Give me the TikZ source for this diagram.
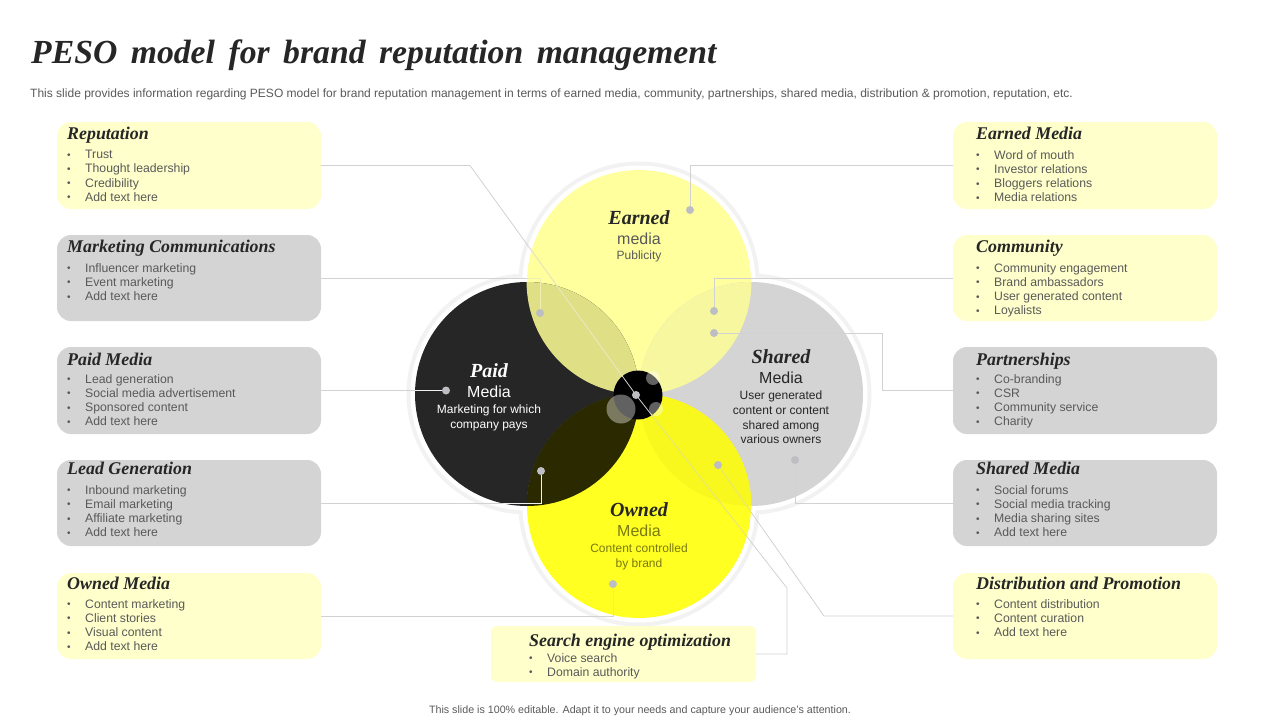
\documentclass[tikz,border=0pt]{standalone}
\usepackage{fontspec}
\setmainfont{Liberation Sans}
\newfontfamily\headfont{Liberation Serif}
\newfontfamily\titlefont[LetterSpace=0,WordSpace=1.6]{Liberation Serif}
\definecolor{txt}{HTML}{595959}
\definecolor{ink}{HTML}{262626}
\definecolor{paleY}{HTML}{FFFFCC}
\definecolor{paleG}{HTML}{D4D4D4}
\definecolor{earnC}{HTML}{FFFF9E}
\definecolor{ownC}{HTML}{FFFF22}
\definecolor{ownT}{HTML}{7A7A10}
\definecolor{wire}{HTML}{D2D2D2}
\definecolor{pin}{HTML}{BDBDC4}
\definecolor{wireE}{HTML}{EEEEB0}
\definecolor{wireO}{HTML}{F0F050}
\definecolor{wireP}{HTML}{F0F0F0}
\tikzset{
  x=1pt,y=-1pt,
  panel/.style={rounded corners=14pt,minimum width=264pt,inner sep=0pt,outer sep=0pt},
  ypanel/.style={panel,fill=paleY},
  gpanel/.style={panel,fill=paleG},
  phead/.style={anchor=base west,inner sep=0pt,text=ink,font=\headfont\bfseries\itshape\fontsize{17.9}{20}\selectfont},
  plist/.style={anchor=north west,inner sep=0pt,align=left,text=txt,font=\fontsize{12.25}{14.2}\selectfont},
  disc/.style={circle,minimum size=224pt,inner sep=0pt,outer sep=0pt},
  chead/.style={inner sep=0pt,font=\headfont\bfseries\itshape\fontsize{20}{22}\selectfont},
  cbody/.style={inner sep=0pt,align=center,font=\fontsize{12}{14.6}\selectfont},
  cmed/.style={inner sep=0pt,font=\fontsize{16}{17}\selectfont},
  dot/.style={circle,fill=pin,minimum size=8pt,inner sep=0pt,outer sep=0pt},
  wireline/.style={draw=wire,line width=0.8pt},
}
\newcommand{\itm}[1]{\makebox[18pt][l]{\raisebox{0.4pt}{\fontsize{10}{10}\selectfont •}}#1}
\begin{document}
\begin{tikzpicture}
\useasboundingbox (0,0) rectangle (1280,720);
% title
\node[anchor=west,inner sep=0pt,text=ink,font=\titlefont\bfseries\itshape\fontsize{33.7}{38}\selectfont] (title) at (31,55) {PESO model for brand reputation management};
\node[anchor=west,inner sep=0pt,text=txt,font=\fontsize{12.02}{14}\selectfont] (sub) at (30,94.5) {This slide provides information regarding PESO model for brand reputation management in terms of earned media, community, partnerships, shared media, distribution \& promotion, reputation, etc.};
\node[inner sep=0pt,text=txt,font=\fontsize{10.7}{12}\selectfont] (foot) at (640,711) {This slide is 100\% editable. Adapt it to your needs and capture your audience's attention.};
% halo
\foreach \c in {(639,282),(527,394),(751,394),(639,506)} \fill[black!5] \c circle (120.5);
\foreach \c in {(639,282),(527,394),(751,394),(639,506)} \fill[white] \c circle (116.5);
% discs
\node[disc,fill=earnC] (earned) at (639,282) {};
\node[disc,fill=ink] (paid) at (527,394) {};
\node[disc,fill=paleG] (shared) at (751,394) {};
\node[disc,fill=ownC] (owned) at (639,506) {};
\begin{scope}\clip (639,282) circle (112.4);\fill[color={rgb,255:red,223;green,223;blue,133}] (527,394) circle (112);\fill[color={rgb,255:red,247;green,247;blue,160}] (751,394) circle (112);\end{scope}
\begin{scope}\clip (639,506) circle (112.4);\fill[color={rgb,255:red,43;green,41;blue,0}] (527,394) circle (112);\fill[color={rgb,255:red,248;green,248;blue,30}] (751,394) circle (112);\end{scope}
% hub
\node[circle,fill=black,minimum size=49pt,inner sep=0pt] (hub) at (638,395) {};
\fill[white,opacity=.38] (621,409) circle (14.5);
\fill[white,opacity=.38] (653,378) circle (7);
\fill[white,opacity=.38] (656,409) circle (7);
% panels left
\node[ypanel,minimum height=87pt] (rep) at (189,165.5) {};
\node[gpanel,minimum height=86pt] (mkt) at (189,278) {};
\node[gpanel,minimum height=87pt] (pai) at (189,390.5) {};
\node[gpanel,minimum height=86pt] (lea) at (189,503) {};
\node[ypanel,minimum height=86pt] (own) at (189,616) {};
% panels right
\node[ypanel,minimum height=87pt] (ear) at (1085,165.5) {};
\node[ypanel,minimum height=86pt] (com) at (1085,278) {};
\node[gpanel,minimum height=87pt] (par) at (1085,390.5) {};
\node[gpanel,minimum height=86pt] (sha) at (1085,503) {};
\node[ypanel,minimum height=86pt] (dis) at (1085,616) {};
\node[fill=paleY,rounded corners=6pt,minimum width=265pt,minimum height=56pt,inner sep=0pt,outer sep=0pt] (seo) at (623.5,654) {};
% dots
\node[dot] (dEar) at (690,210) {};
\node[dot] (dCom) at (714,311) {};
\node[dot] (dPar) at (714,333) {};
\node[dot] (dSha) at (795,460) {};
\node[dot] (dDis) at (718,465) {};
\node[dot] (dMkt) at (540,313) {};
\node[dot] (dPai) at (446,390.5) {};
\node[dot] (dLea) at (541,471) {};
\node[dot] (dOwn) at (613,584) {};
\node[dot] (dHub) at (636,395) {};
% bends
\coordinate (bRep) at (470,165.5);
\coordinate (bSeo) at (787,588);
\coordinate (bDis) at (824,616);
\coordinate (bPar) at (882,333);
\coordinate (xRep) at (622.5,376.4);
\coordinate (xSeo) at (651,414);
% connectors
\draw[wireline] (rep.east) -- (bRep) -- (dHub);
\draw[wireline] (dHub) -- (bSeo) |- (seo.east);
\draw[wireline] (dDis) -- (bDis) -- (dis.west);
\draw[wireline] (ear.west) -| (dEar);
\draw[wireline] (com.west) -| (dCom);
\draw[wireline] (par.west) -| (bPar) -- (dPar);
\draw[wireline] (sha.west) -| (dSha);
\draw[wireline] (mkt.east) -| (dMkt);
\draw[wireline] (pai.east) -- (dPai);
\draw[wireline] (lea.east) -| (dLea);
\draw[wireline] (own.east) -| (dOwn);
% the connectors read paler where they cross a disc
\begin{scope}\clip (639,282) circle (112);
\draw[wireline,draw=wireE] (bRep) -- (xRep);
\draw[wireline,draw=wireE] (mkt.east) -| (dMkt);
\end{scope}
\begin{scope}\clip (639,506) circle (112);
\draw[wireline,draw=wireO] (xSeo) -- (bSeo);
\draw[wireline,draw=wireO] (dDis) -- (bDis);
\draw[wireline,draw=wireO] (own.east) -| (dOwn);
\end{scope}
\begin{scope}\clip (527,394) circle (112);
\draw[wireline,draw=wireP] (pai.east) -- (dPai);
\draw[wireline,draw=wireP] (lea.east) -| (dLea);
\end{scope}
% disc text
\node[chead,text=ink] (t1) at (639,218) {Earned};
\node[cmed,text=txt] (t2) at (639,239) {media};
\node[cbody,text=txt] (t3) at (639,256) {Publicity};
\node[chead,text=white] (t4) at (489,371) {Paid};
\node[cmed,text=white] (t5) at (489,392) {Media};
\node[cbody,text=white,anchor=north] (t6) at (489,405) {Marketing for which\\company pays};
\node[chead,text=ink] (t7) at (781,357) {Shared};
\node[cmed,text=ink] (t8) at (781,378) {Media};
\node[cbody,text=ink,anchor=north] (t9) at (781,391) {User generated\\content or content\\shared among\\various owners};
\node[chead,text=ink] (t10) at (639,510) {Owned};
\node[cmed,text=ownT] (t11) at (639,531) {Media};
\node[cbody,text=ownT,anchor=north] (t12) at (639,544) {Content controlled\\by brand};
% panel text
\node[phead] (h1) at (67,139) {Reputation};
\node[plist] (l1) at (67,150) {\itm{Trust}\\\itm{Thought leadership}\\\itm{Credibility}\\\itm{Add text here}};
\node[phead] (h2) at (67,252) {Marketing Communications};
\node[plist] (l2) at (67,263) {\itm{Influencer marketing}\\\itm{Event marketing}\\\itm{Add text here}};
\node[phead] (h3) at (67,365) {Paid Media};
\node[plist] (l3) at (67,374) {\itm{Lead generation}\\\itm{Social media advertisement}\\\itm{Sponsored content}\\\itm{Add text here}};
\node[phead] (h4) at (67,474) {Lead Generation};
\node[plist] (l4) at (67,485) {\itm{Inbound marketing}\\\itm{Email marketing}\\\itm{Affiliate marketing}\\\itm{Add text here}};
\node[phead] (h5) at (67,589) {Owned Media};
\node[plist] (l5) at (67,599) {\itm{Content marketing}\\\itm{Client stories}\\\itm{Visual content}\\\itm{Add text here}};
\node[phead] (h6) at (976,139) {Earned Media};
\node[plist] (l6) at (976,150) {\itm{Word of mouth}\\\itm{Investor relations}\\\itm{Bloggers relations}\\\itm{Media relations}};
\node[phead] (h7) at (976,252) {Community};
\node[plist] (l7) at (976,263) {\itm{Community engagement}\\\itm{Brand ambassadors}\\\itm{User generated content}\\\itm{Loyalists}};
\node[phead] (h8) at (976,365) {Partnerships};
\node[plist] (l8) at (976,374) {\itm{Co-branding}\\\itm{CSR}\\\itm{Community service}\\\itm{Charity}};
\node[phead] (h9) at (976,474) {Shared Media};
\node[plist] (l9) at (976,485) {\itm{Social forums}\\\itm{Social media tracking}\\\itm{Media sharing sites}\\\itm{Add text here}};
\node[phead] (h10) at (976,589) {Distribution and Promotion};
\node[plist] (l10) at (976,599) {\itm{Content distribution}\\\itm{Content curation}\\\itm{Add text here}};
\node[phead] (h11) at (529,646) {Search engine optimization};
\node[plist] (l11) at (529,653) {\itm{Voice search}\\\itm{Domain authority}};
\end{tikzpicture}
\end{document}
